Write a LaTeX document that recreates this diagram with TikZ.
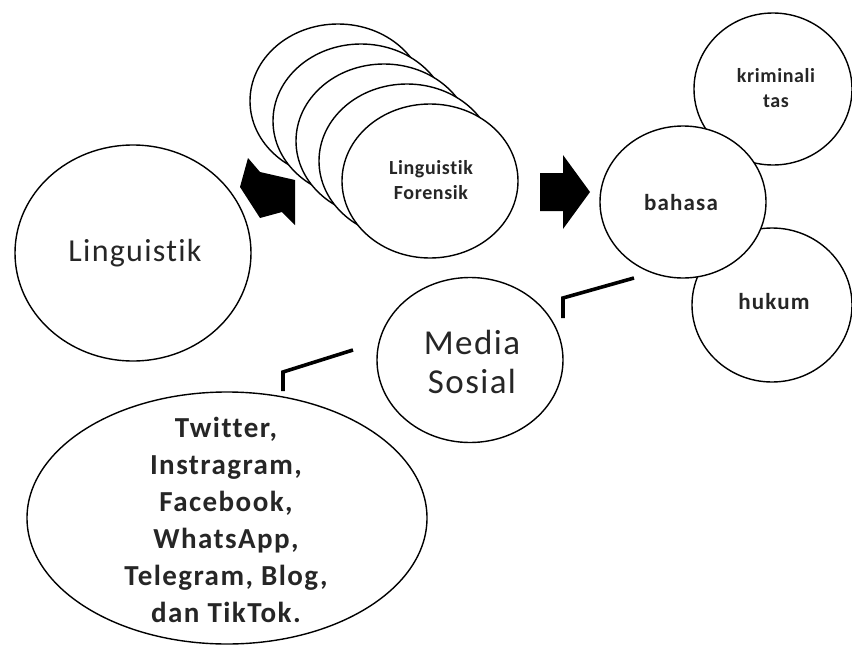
\documentclass[tikz,border=0pt]{standalone}
\usepackage{fontspec}
\setmainfont{Carlito}[Ligatures=NoCommon]
\usetikzlibrary{shapes.geometric}
\begin{document}
\begin{tikzpicture}[x=1pt,y=-1pt,
  bub/.style={draw=black, line width=1.4pt, fill=white, ellipse, inner sep=0pt},
  conn/.style={draw=black, line width=3.6pt, line cap=butt, line join=miter},
  blk/.style={fill=black, draw=none},
  txt/.style={text=black!85, align=center, inner sep=0pt}]
\useasboundingbox (0,0) rectangle (852,648);

% Linguistik
\node[bub, minimum width=236, minimum height=216] (ling) at (133,253) {};
\node[txt, font=\fontsize{32}{36}\selectfont\addfontfeatures{LetterSpace=4}] (lingt) at (135,253) {Linguistik};

% arrow 1
\fill[blk] (248,158) -- (260,172) -- (295,180) -- (295,225) -- (282,212) -- (260,218) -- (240,187) -- cycle;

% stacked ellipses
\node[bub, minimum width=176, minimum height=154] (f1) at (338,101) {};
\node[bub, minimum width=176, minimum height=154] (f2) at (361,121) {};
\node[bub, minimum width=176, minimum height=154] (f3) at (384,141) {};
\node[bub, minimum width=176, minimum height=154] (f4) at (407,161) {};
\node[bub, minimum width=176, minimum height=154] (f5) at (430,181) {};
\node[txt, font=\bfseries\fontsize{20}{25}\selectfont\addfontfeatures{LetterSpace=3}] (f5t) at (431,180) {Linguistik\\Forensik};

% arrow 2
\fill[blk] (540,173) -- (563,173) -- (563,155) -- (590,192) -- (563,229) -- (563,211) -- (540,211) -- cycle;

% kriminalitas, hukum, bahasa
\node[bub, minimum width=158, minimum height=152] (krim) at (773,89) {};
\node[txt, font=\bfseries\fontsize{20}{25}\selectfont\addfontfeatures{LetterSpace=3}] (krimt) at (776,88) {kriminali\\tas};
\node[bub, minimum width=160, minimum height=154] (huk) at (772,305) {};
\node[txt, font=\bfseries\fontsize{23}{25}\selectfont\addfontfeatures{LetterSpace=5}] (hukt) at (774,302) {hukum};
\node[bub, minimum width=166, minimum height=152] (bhs) at (683,202) {};
\node[txt, font=\bfseries\fontsize{23}{25}\selectfont\addfontfeatures{LetterSpace=5}] (bhst) at (681,203) {bahasa};

% Media Sosial
\node[bub, minimum width=186, minimum height=165] (med) at (470,360) {};
\node[txt, font=\fontsize{35}{39}\selectfont\addfontfeatures{LetterSpace=4}] (medt) at (472,362) {Media\\Sosial};

% social list
\node[bub, minimum width=400, minimum height=252] (soc) at (227,518) {};
\node[txt, font=\bfseries\fontsize{29}{37}\selectfont\addfontfeatures{LetterSpace=5}] (soct) at (226,520) {Twitter,\\Instragram,\\Facebook,\\WhatsApp,\\Telegram, Blog,\\dan TikTok.};

% connectors
\coordinate (c1a) at (634,278);
\coordinate (c1b) at (563,298);
\coordinate (c1c) at (563,318);
\draw[conn] (c1a) -- (c1b) -- (c1c);
\coordinate (c2a) at (353,350);
\coordinate (c2b) at (283,372);
\coordinate (c2c) at (283,391);
\draw[conn] (c2a) -- (c2b) -- (c2c);
\end{tikzpicture}
\end{document}
